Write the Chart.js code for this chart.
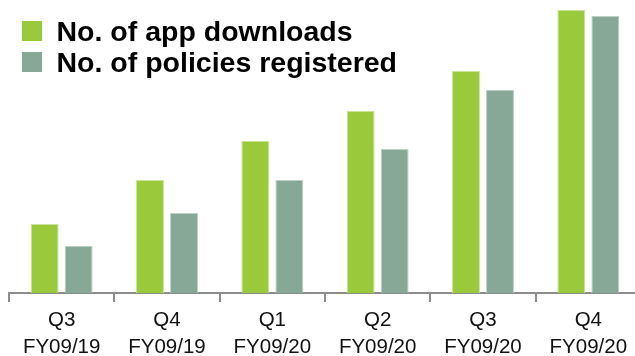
<!DOCTYPE html>
<html>
<head>
<meta charset="utf-8">
<script src="https://cdn.jsdelivr.net/npm/chart.js@4/dist/chart.umd.min.js"></script>
<style>
  html, body { margin: 0; padding: 0; background: #fff; overflow: hidden; }
  #wrap { position: relative; width: 642px; height: 356px; }
  #legend { position: absolute; left: 0; top: 0; font: bold 28.5px "Liberation Sans", Arial, sans-serif; color: #000; }
  .item { position: absolute; left: 22px; height: 31px; line-height: 31px; white-space: nowrap; }
  .item .box { position: absolute; left: 0; top: 5px; width: 20px; height: 20px; }
  .item .txt { position: absolute; left: 34.5px; top: 0; }
</style>
</head>
<body>
<div id="wrap">
  <canvas id="chart" width="642" height="356"></canvas>
  <div id="legend"></div>
</div>
<script>
// quarters on the x axis, two lines each
const quarters = [
  ['Q3', 'FY09/19'],
  ['Q4', 'FY09/19'],
  ['Q1', 'FY09/20'],
  ['Q2', 'FY09/20'],
  ['Q3', 'FY09/20'],
  ['Q4', 'FY09/20'],
];
const appDownloads = [69, 113, 152, 182, 222, 283];
const policiesRegistered = [47, 80, 113, 144, 203, 277];
const seriesNames = ['No. of app downloads', 'No. of policies registered'];
const seriesColors = ['#9aca3c', '#88a897'];

// legend sits over the top-left of the plot
const legendEl = document.getElementById('legend');
seriesNames.forEach(function (name, i) {
  const item = document.createElement('div');
  item.className = 'item';
  item.style.top = (16 + i * 31) + 'px';
  item.innerHTML = '<span class="box" style="background:' + seriesColors[i] + '"></span><span class="txt">' + name + '</span>';
  legendEl.appendChild(item);
});

const axisGrey = '#8c8c8c';

new Chart(document.getElementById('chart'), {
  type: 'bar',
  data: {
    labels: quarters,
    datasets: [
      {
        label: seriesNames[0],
        data: appDownloads,
        backgroundColor: seriesColors[0],
        borderColor: '#c9e39a',
        borderWidth: 1,
        categoryPercentage: 0.646,
        barPercentage: 0.82,
      },
      {
        label: seriesNames[1],
        data: policiesRegistered,
        backgroundColor: seriesColors[1],
        borderColor: '#bccfc4',
        borderWidth: 1,
        categoryPercentage: 0.646,
        barPercentage: 0.82,
      },
    ],
  },
  options: {
    responsive: false,
    animation: false,
    layout: { padding: { left: 9, right: 1, top: 10, bottom: 0 } },
    plugins: {
      legend: { display: false },
      tooltip: { enabled: false },
    },
    scales: {
      x: {
        grid: {
          display: true,
          drawOnChartArea: false,
          drawTicks: true,
          tickLength: 9,
          color: axisGrey,
          lineWidth: 2,
        },
        border: { display: true, color: axisGrey, width: 2 },
        ticks: {
          color: '#111',
          padding: 5,
          maxRotation: 0,
          autoSkip: false,
          font: { family: '"Liberation Sans", Arial, sans-serif', size: 20.5, lineHeight: 1.31 },
        },
        afterFit: function (scale) {
          scale.height = 63;
        },
      },
      y: {
        display: false,
        min: 0,
        max: 283,
      },
    },
  },
});
</script>
</body>
</html>
